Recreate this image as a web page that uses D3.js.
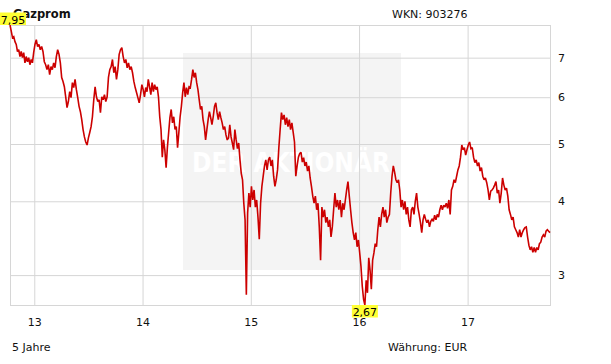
<!DOCTYPE html>
<html>
<head>
<meta charset="utf-8">
<script src="https://cdn.jsdelivr.net/npm/d3@7"></script>
<style>
    body { margin: 0; background: #fff; }
    svg { display: block; font-family: "DejaVu Sans", Verdana, sans-serif; }
</style>
</head>
<body>
<div id="chart"></div>
<script>
// Gazprom, 5 years, EUR -- prices, per calendar year
var p2012 = [7.95, 7.76, 7.57, 7.60, 7.45, 7.37, 7.17, 7.22, 7.03, 7.17, 7.00, 7.14, 6.86, 7.03, 6.89, 7.00, 6.81, 6.95, 6.86, 7.14];
var p2013 = [7.37, 7.51, 7.31, 7.37, 7.22, 7.31, 7.17, 6.89, 6.81, 6.68,
    6.81, 6.55, 6.76, 6.68, 6.86, 6.73, 7.03, 7.22, 7.09, 6.86,
    6.48, 6.38, 6.25, 6.01, 5.76, 5.90, 6.13, 5.99, 6.35, 6.23,
    6.43, 6.18, 5.99, 5.79, 5.67, 5.50, 5.29, 5.14, 5.04, 4.98,
    5.12, 5.23, 5.35, 5.56, 5.94, 6.25, 6.01, 5.90, 5.94, 5.65,
    6.01, 5.94, 6.06, 5.90, 6.01, 6.48, 6.68, 6.76, 6.95, 6.60,
    6.76, 6.43, 6.68, 7.09, 7.22, 7.28, 7.03, 6.86, 6.95, 6.73,
    6.86, 6.68, 6.76, 6.60, 6.38, 6.23, 6.11, 5.99, 5.87, 6.06, 6.30];
var p2014 = [6.18, 6.01, 6.23, 6.13, 6.43, 6.25, 6.06, 6.35, 6.13, 6.30,
    6.18, 6.25, 6.01, 5.56, 5.29, 4.75, 5.08, 4.89, 4.56, 4.93,
    5.23, 5.54, 5.72, 5.43, 5.56, 5.29, 5.35, 4.93, 5.23, 5.56,
    5.79, 6.11, 6.35, 6.01, 6.23, 6.06, 6.25, 6.23,
    6.43, 6.68, 6.48, 6.60, 6.35, 6.18, 5.94, 5.72, 5.79, 5.50,
    5.35, 5.08, 5.29, 5.50, 5.67, 5.54, 5.39, 5.56, 5.79, 5.87,
    5.65, 5.50, 5.67, 5.54, 5.43, 5.29, 5.35, 5.18, 5.08, 5.12,
    5.39, 5.14, 5.02, 4.89, 5.29, 5.08, 4.91, 5.02, 4.70, 4.46,
    4.35, 3.97, 3.72, 2.78, 3.82, 4.13, 3.91];
var p2015 = [4.24, 4.02, 4.18, 3.91, 4.02, 3.76, 3.45, 3.97, 4.24, 4.41,
    4.59, 4.70, 4.52, 4.70, 4.75, 4.59, 4.70, 4.41, 4.24, 4.35,
    4.52, 4.93, 5.29,
    5.65, 5.50, 5.60, 5.39, 5.54, 5.35, 5.50, 5.29, 5.43, 5.23,
    5.04, 4.41, 4.59, 4.75, 4.82, 4.84, 4.66, 4.74, 4.59, 4.66,
    4.50, 4.59, 4.38, 4.24, 4.08, 3.97, 4.08, 3.87, 3.97, 3.62,
    3.18, 3.91, 3.76, 3.87, 3.68, 3.76, 3.62, 3.72, 3.48, 3.62,
    3.87, 4.13, 3.91, 4.02, 3.87, 4.02, 3.76, 3.97, 3.87, 4.02,
    4.18, 4.32, 4.08, 3.87, 3.68, 3.54, 3.44, 3.54, 3.35, 3.44];
var p2016 = [3.27, 3.10, 2.87, 2.73, 2.67, 2.94, 2.80, 3.21, 3.06, 2.84,
    3.18, 3.27, 3.39, 3.35, 3.58, 3.76, 3.62, 3.80, 3.91, 3.76,
    3.87, 3.68, 3.76, 3.80, 4.13, 4.41, 4.59, 4.48, 4.35, 4.30,
    4.35, 4.18, 3.91, 4.02, 3.87, 4.00, 3.80, 3.91, 3.72, 3.62,
    3.87, 3.91, 3.80, 4.00, 4.13, 3.91, 3.80, 3.68, 3.54, 3.72,
    3.80, 3.73, 3.68, 3.72, 3.62, 3.70, 3.73, 3.70, 3.79, 3.72,
    3.80, 3.76, 3.87, 3.94, 3.87, 3.94, 3.91, 3.97, 3.89, 4.02,
    3.80, 4.18, 4.24, 4.35, 4.30, 4.41, 4.52, 4.59, 4.75, 4.98,
    4.89, 4.93, 4.79, 4.89];
var p2017 = [4.98, 5.04, 4.91, 4.93, 4.75, 4.65, 4.70, 4.59, 4.65, 4.50,
    4.56, 4.41, 4.35, 4.38, 4.30, 4.18, 4.02, 4.16, 4.18, 4.21,
    4.26, 4.32, 4.13, 4.18, 3.97, 4.13, 4.38, 4.26, 4.18, 4.21,
    4.08, 3.87, 3.80, 3.72, 3.76, 3.62, 3.58, 3.54, 3.48, 3.58,
    3.48, 3.54, 3.58, 3.61, 3.62, 3.48, 3.37, 3.31, 3.35, 3.28,
    3.34, 3.28, 3.34, 3.31, 3.39, 3.41, 3.48, 3.51, 3.48, 3.56,
    3.58, 3.56, 3.54];

var segments = [p2012, p2013, p2014, p2015, p2016, p2017];
var segStarts = ["2012-10-09", "2013-01-01", "2014-01-01", "2015-01-01", "2016-01-01", "2017-01-01"];
var segEnds = ["2013-01-01", "2014-01-01", "2015-01-01", "2016-01-01", "2017-01-01", "2017-10-08"];

var yTicks = [3, 4, 5, 6, 7];
var xTicks = ["2013-01-01", "2014-01-01", "2015-01-01", "2016-01-01", "2017-01-01"];
var xTickLabels = ["13", "14", "15", "16", "17"];

(function () {
    var W = 611, H = 364;
    var plotL = 10, plotR = 550, plotT = 25, plotB = 305;
    var gridColor = "#d6d6d6";

    var parse = d3.timeParse("%Y-%m-%d");

    // spread each year's prices evenly over that year
    var data = [];
    segments.forEach(function (vals, k) {
        var s = parse(segStarts[k]).getTime(), e = parse(segEnds[k]).getTime();
        vals.forEach(function (v, i) {
            data.push({ date: new Date(s + (i + 0.5) * (e - s) / vals.length), value: v });
        });
    });

    var svg = d3.select("#chart").append("svg")
        .attr("width", W)
        .attr("height", H);

    svg.append("rect").attr("width", W).attr("height", H).attr("fill", "#fff");

    var x = d3.scaleTime()
        .domain(d3.extent(data, function (d) { return d.date; }))
        .range([plotL, plotR]);

    var y = d3.scaleLog()
        .domain(d3.extent(data, function (d) { return d.value; }))
        .range([plotB, plotT]);

    // watermark
    svg.append("rect")
        .attr("x", 183).attr("y", 53)
        .attr("width", 218).attr("height", 217)
        .attr("fill", "#f4f4f4");
    svg.append("text")
        .attr("x", 192).attr("y", 172)
        .attr("textLength", 198)
        .attr("lengthAdjust", "spacingAndGlyphs")
        .style("font-size", "27px")
        .style("font-weight", "bold")
        .attr("fill", "#fff")
        .text("DER AKTIONÄR");

    // grid + tick labels
    var yAxis = svg.append("g")
        .attr("transform", "translate(" + plotR + ",0)")
        .call(d3.axisRight(y)
            .tickValues(yTicks)
            .tickSize(-(plotR - plotL))
            .tickPadding(8)
            .tickFormat(d3.format("d")));

    var xAxis = svg.append("g")
        .attr("transform", "translate(0," + plotB + ")")
        .call(d3.axisBottom(x)
            .tickValues(xTicks.map(parse))
            .tickSize(-(plotB - plotT))
            .tickPadding(13)
            .tickFormat(function (d, i) { return xTickLabels[i]; }));

    [yAxis, xAxis].forEach(function (g) {
        g.select(".domain").remove();
        g.selectAll(".tick line").attr("stroke", gridColor);
        g.selectAll(".tick text")
            .attr("fill", "#111")
            .style("font-size", "11px")
            .style("font-family", "'DejaVu Sans', Verdana, sans-serif");
    });

    // frame
    svg.append("rect")
        .attr("x", plotL + 0.5).attr("y", plotT + 0.5)
        .attr("width", plotR - plotL).attr("height", plotB - plotT)
        .attr("fill", "none")
        .attr("stroke", gridColor);

    // price line
    var line = d3.line()
        .x(function (d) { return x(d.date); })
        .y(function (d) { return y(d.value); });

    svg.append("path")
        .datum(data)
        .attr("d", line)
        .attr("fill", "none")
        .attr("stroke", "#cc0000")
        .attr("stroke-width", 1.6)
        .attr("stroke-linejoin", "miter")
        .attr("stroke-miterlimit", 2);

    // texts
    svg.append("text")
        .attr("x", 13).attr("y", 17.5)
        .style("font-size", "11.5px")
        .style("font-weight", "bold")
        .attr("fill", "#111")
        .text("Gazprom");

    svg.append("text")
        .attr("x", 392).attr("y", 17.5)
        .style("font-size", "11px")
        .attr("fill", "#111")
        .text("WKN: 903276");

    svg.append("text")
        .attr("x", 12).attr("y", 351)
        .style("font-size", "11px")
        .attr("fill", "#111")
        .text("5 Jahre");

    svg.append("text")
        .attr("x", 388).attr("y", 351)
        .style("font-size", "11px")
        .attr("fill", "#111")
        .text("Währung: EUR");

    // high / low markers
    var fmt = function (v) { return d3.format(".2f")(v).replace(".", ","); };
    var hi = d3.greatest(data, function (d) { return d.value; });
    var lo = d3.least(data, function (d) { return d.value; });

    [[hi, -1], [lo, 1]].forEach(function (m) {
        var d = m[0], bw = 26, bh = 12.5;
        var cx = x(d.date), cy = y(d.value);
        var bx = Math.max(0, cx - bw / 2);
        var by = m[1] < 0 ? cy - bh : cy;
        svg.append("rect")
            .attr("x", bx).attr("y", by)
            .attr("width", bw).attr("height", bh)
            .attr("fill", "#ffff33");
        svg.append("text")
            .attr("x", bx + bw / 2).attr("y", by + 11)
            .attr("text-anchor", "middle")
            .style("font-size", "11px")
            .attr("fill", "#000")
            .text(fmt(d.value));
    });
})();
</script>
</body>
</html>
